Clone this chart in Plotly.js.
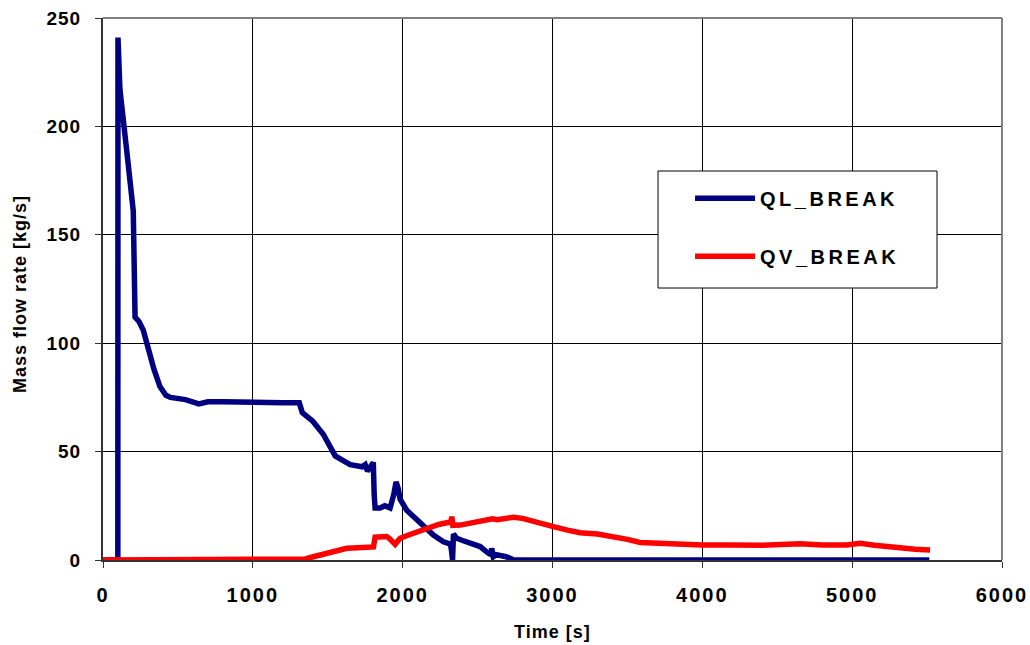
<!DOCTYPE html>
<html>
<head>
<meta charset="utf-8">
<script src="https://cdn.plot.ly/plotly-3.0.1.min.js"></script>
<style>
  html, body { margin: 0; padding: 0; background: #fff; }
  #chart { width: 1030px; height: 645px; }
  .xtick text { letter-spacing: 2px; }
  .ytick text { letter-spacing: 1px; }
  .legendtext { letter-spacing: 3.5px; }
  .annotation-text { letter-spacing: 1px; }
</style>
</head>
<body>
<div id="chart"></div>
<script>
// Break mass flow: liquid (QL) and vapour (QV) phases, time in seconds
const qlTime = [0, 99, 100, 113, 158, 202, 214, 240, 269, 300, 340, 380, 420, 450, 550, 640, 700, 800, 1000, 1200, 1310,
  1330, 1400, 1470, 1510, 1550, 1600, 1650, 1730, 1750, 1765, 1790, 1804, 1810, 1816, 1850, 1880, 1900, 1916, 1940, 1956,
  1970, 1983, 2027, 2070, 2116, 2160, 2205, 2272, 2316, 2325, 2328, 2333, 2339, 2361, 2400, 2450, 2517, 2572, 2590, 2594,
  2600, 2605, 2625, 2650, 2690, 2717, 2740, 5515];
const qlFlow = [0, 0, 241, 217, 189, 161, 112, 110, 106, 98, 88, 80, 76, 75, 74, 72, 73, 73, 72.5, 72.5, 72.5,
  68, 64, 58, 53, 48, 46, 44, 43, 44, 41, 43, 45, 30, 24, 24, 25, 24.5, 24, 30, 36,
  33, 28, 23, 20, 17, 14, 11.5, 8.4, 7.4, 5, 0, 0, 12, 10, 9, 7.7, 6.2, 3.1, 2.5, 5.4,
  3, 1.5, 2.5, 2.3, 1.5, 0.8, 0, 0];

const qvTime = [0, 1300, 1350, 1404, 1470, 1537, 1580, 1627, 1700, 1738, 1793, 1805, 1816, 1850, 1894, 1910, 1923, 1940,
  1950, 1965, 1983, 2030, 2072, 2130, 2183, 2240, 2294, 2322, 2328, 2335, 2383, 2450, 2517, 2560, 2590, 2600, 2630,
  2680, 2739, 2800, 2873, 2940, 3006, 3100, 3184, 3300, 3407, 3500, 3585, 3700, 3852, 4000, 4186, 4400, 4653, 4800,
  4964, 5053, 5150, 5320, 5420, 5520];
const qvFlow = [0, 0, 0.5, 1.5, 2.5, 3.8, 4.7, 5.4, 5.6, 5.7, 5.4, 6, 10.5, 10.8, 10.8, 10, 9, 7.5,
  7.2, 8.5, 10, 11.3, 12.3, 13.8, 15.4, 16.4, 17.2, 17.5, 20, 16, 16.1, 16.8, 17.7, 18, 18.4, 19, 18.6,
  19.3, 19.7, 19.2, 17.7, 16.5, 15.4, 13.8, 12.6, 12, 10.8, 9.5, 8.1, 7.6, 7.4, 6.9, 6.9, 6.8, 7.5, 6.9,
  6.9, 7.7, 6.8, 5.4, 5, 4.6];

const seriesNames = ['QL_BREAK', 'QV_BREAK'];
const xTicks = [0, 1000, 2000, 3000, 4000, 5000, 6000];
const yTicks = [0, 50, 100, 150, 200, 250];
const xTitle = 'Time [s]';
const yTitle = 'Mass flow rate [kg/s]';

const FONT = 'Liberation Sans, Arial, sans-serif';

const traces = [
  { x: qlTime, y: qlFlow, name: seriesNames[0], type: 'scatter', mode: 'lines',
    line: { color: '#000080', width: 5.5 }, legendgroup: 'ql' },
  { x: qvTime, y: qvFlow, name: seriesNames[1], type: 'scatter', mode: 'lines',
    line: { color: '#ff0000', width: 5.5 }, legendgroup: 'qv' }
];

const layout = {
  width: 1030, height: 645,
  margin: { l: 103, r: 28, t: 18, b: 85 },
  paper_bgcolor: '#fff', plot_bgcolor: '#fff',
  font: { family: FONT, size: 18, color: '#000', weight: 'bold' },
  xaxis: {
    range: [0, 6000], tickvals: xTicks, ticktext: xTicks.map(String),
    showgrid: true, gridcolor: '#000', gridwidth: 1,
    zeroline: false, showline: true, linecolor: '#333', linewidth: 2,
    ticks: 'outside', ticklen: 6, tickcolor: '#333', tickwidth: 1,
    tickfont: { family: FONT, size: 20, color: '#000', weight: 'bold' },
    ticklabelstandoff: 10
  },
  yaxis: {
    range: [0, 250], tickvals: yTicks, ticktext: yTicks.map(String),
    showgrid: true, gridcolor: '#000', gridwidth: 1,
    zeroline: false, showline: true, linecolor: '#333', linewidth: 2,
    ticks: 'outside', ticklen: 6, tickcolor: '#333', tickwidth: 1,
    tickfont: { family: FONT, size: 19, color: '#000', weight: 'bold' },
    ticklabelstandoff: 10
  },
  showlegend: true,
  legend: {
    x: 0.653, y: 0.7035, xanchor: 'left', yanchor: 'top',
    bgcolor: 'rgba(0,0,0,0)', borderwidth: 0,
    traceorder: 'grouped', tracegroupgap: 29, itemwidth: 60,
    font: { family: FONT, size: 20, color: '#000', weight: 'bold' }
  },
  shapes: [
    // plot frame, top and right edges
    { type: 'line', xref: 'paper', yref: 'paper', x0: 0, x1: 1, y0: 1, y1: 1,
      line: { color: '#808080', width: 2 }, layer: 'above' },
    { type: 'line', xref: 'paper', yref: 'paper', x0: 1, x1: 1, y0: 0, y1: 1,
      line: { color: '#808080', width: 2 }, layer: 'above' },
    // legend box
    { type: 'rect', xref: 'paper', yref: 'paper', x0: 0.6174, x1: 0.9277, y0: 0.5018, y1: 0.7177,
      fillcolor: '#fff', line: { color: '#000', width: 1 }, layer: 'above' }
  ],
  annotations: [
    { text: xTitle, xref: 'paper', yref: 'paper', x: 0.5, y: 0, xanchor: 'center', yanchor: 'middle',
      yshift: -72, showarrow: false, font: { family: FONT, size: 18, color: '#000', weight: 'bold' } },
    { text: yTitle, xref: 'paper', yref: 'paper', x: 0, y: 0.4908, xanchor: 'center', yanchor: 'middle',
      xshift: -83, textangle: -90, showarrow: false,
      font: { family: FONT, size: 18, color: '#000', weight: 'bold' } }
  ]
};

Plotly.newPlot('chart', traces, layout, { displayModeBar: false, staticPlot: true });
</script>
</body>
</html>
